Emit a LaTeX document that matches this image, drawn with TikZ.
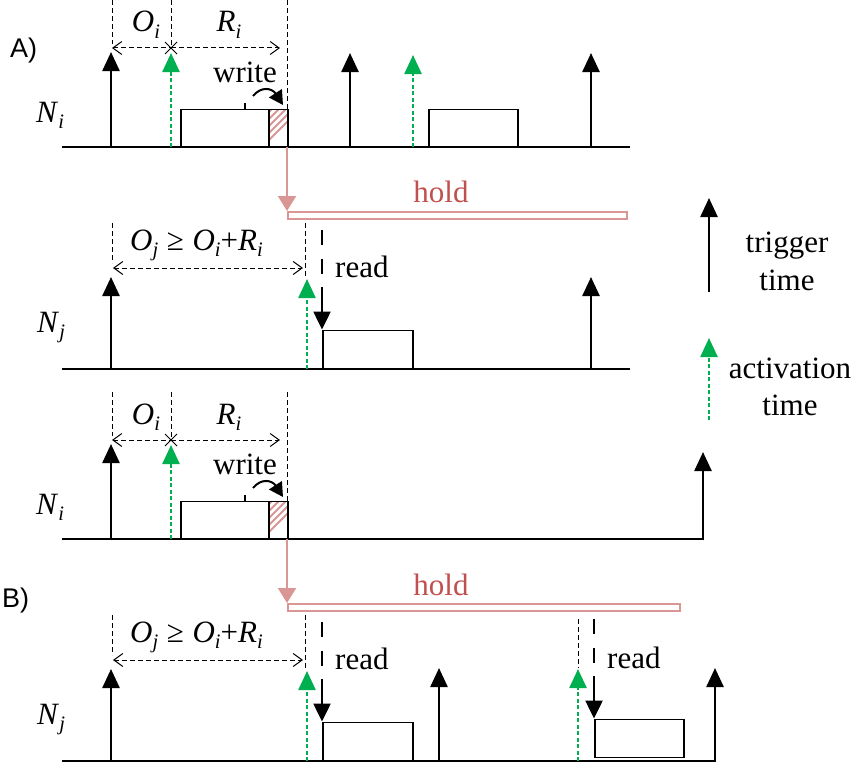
\documentclass[tikz,border=0pt]{standalone}
\usepackage{fontspec}
\setmainfont{Liberation Serif}
\newfontfamily\labfont{Liberation Sans}
\usetikzlibrary{arrows.meta}
\definecolor{actg}{RGB}{0,176,80}
\definecolor{holdc}{RGB}{217,150,148}
\definecolor{holdt}{RGB}{192,80,77}
\newcommand{\subtxt}[2]{\textit{#1}\raisebox{-0.22em}{\fontsize{20.5}{24}\selectfont\textit{#2}}}
\begin{document}
\begin{tikzpicture}[x=1pt,y=-1pt,
  txt/.style={font=\rmfamily\fontsize{31}{37}\selectfont, inner sep=0pt, anchor=base},
  panlab/.style={font=\labfont\fontsize{27}{32}\selectfont, inner sep=0pt, anchor=base west},
  axis/.style={line width=1.5pt},
  trigger/.style={line width=2.5pt, -{Triangle[width=17pt,length=19pt]}},
  activ/.style={line width=2.5pt, actg, dash pattern=on 4pt off 2.5pt, -{Triangle[width=17pt,length=19pt]}},
  guide/.style={line width=1pt, dash pattern=on 5pt off 3pt},
  dimarrow/.style={line width=1pt, dash pattern=on 5pt off 3pt, arrows={Straight Barb[length=9pt,width=13pt]-Straight Barb[length=9pt,width=13pt]}},
  jobbox/.style={draw, line width=1.5pt, fill=white},
  hatchline/.style={holdc, line width=2pt},
  holdline/.style={holdc, line width=2pt, -{Triangle[width=18pt,length=15pt]}},
  holdbar/.style={draw=holdc, line width=2pt, fill=white},
  readdash/.style={line width=2.5pt, dash pattern=on 15pt off 14pt},
  readtip/.style={line width=2.5pt, -{Triangle[width=17pt,length=18pt]}},
  writearr/.style={line width=2pt, -{Triangle[width=15pt,length=14pt]}}
]
\useasboundingbox (0,0) rectangle (853,768);

% ---------- N_i panel (common part) ----------
\newcommand{\NiPanel}[1]{%
\begin{scope}[shift={(0,#1)}]
  \coordinate (t1) at (111,147);
  \coordinate (a1) at (171,147);
  \draw[guide] (112,0) -- (112,44);
  \draw[guide] (171,0) -- (171,48);
  \draw[guide] (287,0) -- (287,110);
  \draw[dimarrow, arrows={Straight Barb[length=9pt,width=13pt]-}] (112,48) -- (171,48);
  \draw[dimarrow, arrows={-Straight Barb[length=9pt,width=13pt]}] (171,48) -- (280,48);
  \draw[line width=1pt] (165,42) -- (177,54) (165,54) -- (177,42);
  \node[txt] (Oi) at (146,32) {\subtxt{O}{i}};
  \node[txt] (Ri) at (229,32) {\subtxt{R}{i}};
  \node[jobbox, minimum width=88pt, minimum height=37pt, anchor=south west] (job) at (180,147) {};
  \begin{scope}
    \clip (268,110) rectangle (287,147);
    \foreach \k in {0,7,...,63} {\draw[hatchline] (262,147-\k) -- (300,109-\k);}
  \end{scope}
  \node[draw, line width=1.5pt, minimum width=19pt, minimum height=37pt, anchor=south west] (hatch) at (268,147) {};
  \node[txt] (wr) at (245,82) {write};
  \draw[line width=1.5pt] (245,103) -- (245,110);
  \draw[writearr] (253,96) .. controls (261,86) and (272,88) .. (283,105);
  \draw[trigger] (t1) -- (111,52);
  \draw[activ] (a1) -- (171,53);
  \node[txt, anchor=base west] (Ni) at (36,122) {\subtxt{N}{i}};
\end{scope}}

% ---------- N_j panel (common part) ----------
\newcommand{\NjPanel}[1]{%
\begin{scope}[shift={(0,#1)}]
  \draw[guide] (112,223) -- (112,263);
  \draw[guide] (305,223) -- (305,277);
  \draw[dimarrow] (113,268) -- (303,268);
  \node[txt, anchor=base west] (Oj) at (130,250) {\subtxt{O}{j}\;≥\;\subtxt{O}{i}+\subtxt{R}{i}};
  \draw[trigger] (111,369) -- (111,277);
  \draw[activ] (307,369) -- (307,279);
  \node[jobbox, minimum width=90pt, minimum height=38pt, anchor=south west] (jobj) at (322,369) {};
  \draw[readdash] (322,230) -- (322,288);
  \draw[readtip] (322,287) -- (jobj.north west);
  \node[txt, anchor=base west] (rd) at (335,277) {read};
  \node[txt, anchor=base west] (Nj) at (37,332) {\subtxt{N}{j}};
\end{scope}}

% ===== A) =====
\node[panlab] (A) at (10,57) {A)};
\draw[axis] (62,147) -- (630,147);
\NiPanel{0}
\draw[trigger] (350,147) -- (350,53);
\draw[activ] (413,147) -- (413,55);
\node[jobbox, minimum width=89pt, minimum height=37pt, anchor=south west] (job2) at (428,147) {};
\draw[trigger] (591,147) -- (591,53);
\coordinate (hA) at (287,147);
\node[holdbar, minimum width=339pt, minimum height=7pt, inner sep=0pt, anchor=north west] (barA) at (287,211) {};
\draw[holdline] (hA) -- (barA.north west);
\node[txt, holdt] (holdA) at (441,202) {hold};

% middle N_j
\draw[axis] (62,369) -- (630,369);
\NjPanel{0}
\draw[trigger] (591,369) -- (591,277);

% legend
\draw[trigger] (709,292) -- (709,198);
\node[txt] (lg1) at (787,252) {trigger};
\node[txt] (lg2) at (787,290) {time};
\draw[activ] (709,420) -- (709,338);
\node[txt] (lg3) at (790,378) {activation};
\node[txt] (lg4) at (790,415) {time};

% ===== B) =====
\draw[axis] (62,539) -- (704,539);
\NiPanel{392}
\draw[trigger] (703,539) -- (703,452);
\coordinate (hB) at (287,539);
\node[holdbar, minimum width=392pt, minimum height=7pt, inner sep=0pt, anchor=north west] (barB) at (287,603) {};
\draw[holdline] (hB) -- (barB.north west);
\node[txt, holdt] (holdB) at (441,595) {hold};
\node[panlab] (B) at (2,607) {B)};

% bottom N_j
\draw[axis] (62,761) -- (716,761);
\NjPanel{392}
\draw[trigger] (439,761) -- (439,668);
\draw[guide] (578,619) -- (578,668);
\draw[activ] (578,761) -- (578,669);
\node[jobbox, minimum width=89pt, minimum height=38pt, anchor=south west] (jobj2) at (594,758) {};
\draw[readdash] (594,619) -- (594,677);
\draw[readtip] (594,676) -- (jobj2.north west);
\node[txt, anchor=base west] (rd2) at (607,668) {read};
\draw[trigger] (715,761) -- (715,668);
\end{tikzpicture}
\end{document}
